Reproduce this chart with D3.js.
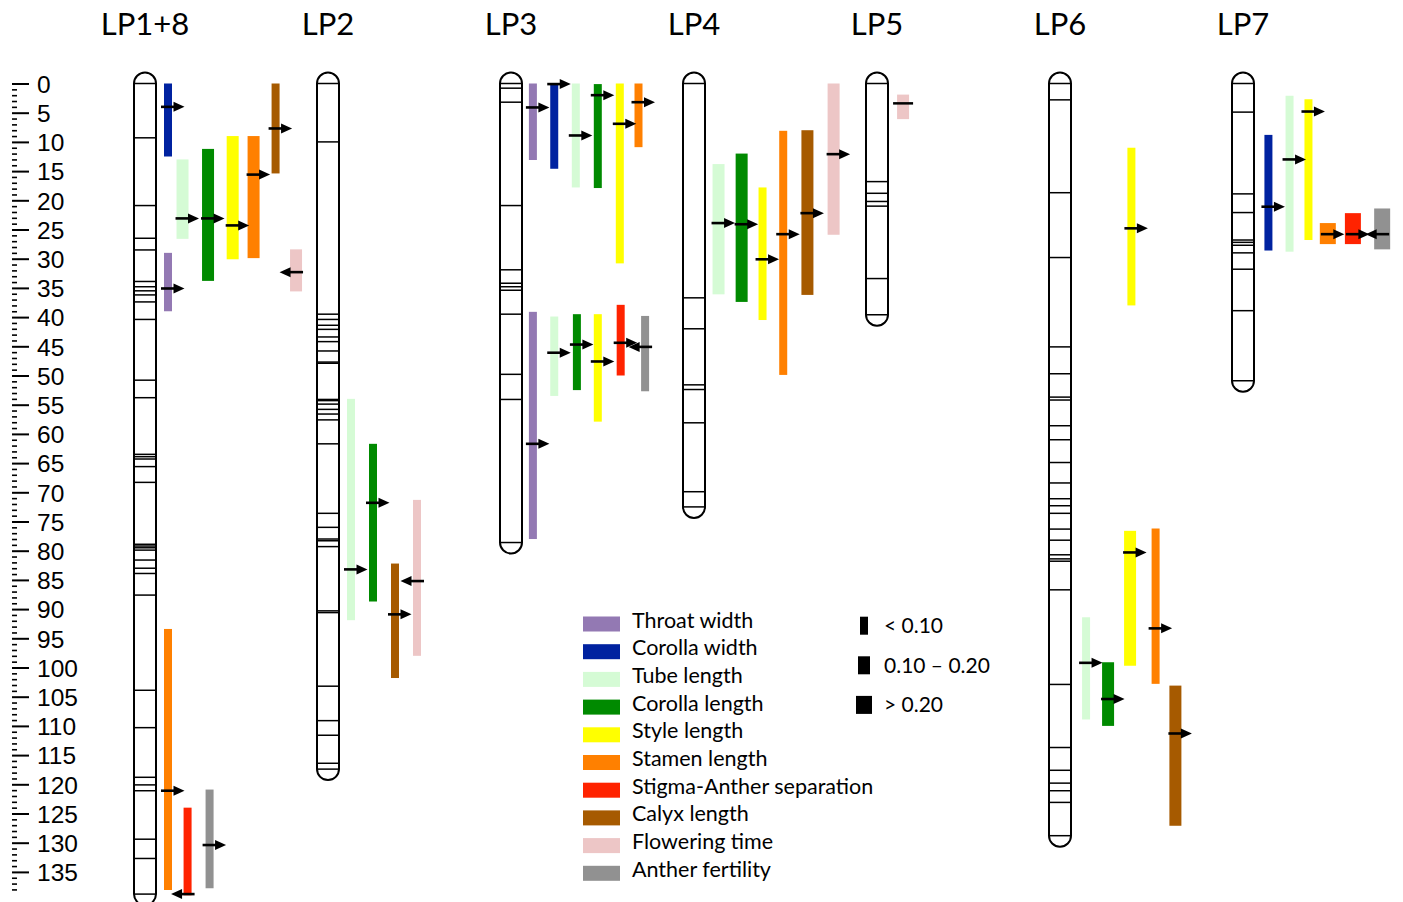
<!DOCTYPE html>
<html>
<head>
<meta charset="utf-8">
<script src="https://cdn.jsdelivr.net/npm/d3@7"></script>
<style>
  html, body { margin: 0; padding: 0; background: #fff; }
  svg { display: block; }
</style>
</head>
<body>
<svg id="chart" width="1403" height="902"></svg>
<script>
// ---------------- DATA ----------------
const groups = ["LP1+8", "LP2", "LP3", "LP4", "LP5", "LP6", "LP7"];

const traits = ["Throat width", "Corolla width", "Tube length", "Corolla length", "Style length",
  "Stamen length", "Stigma-Anther separation", "Calyx length", "Flowering time", "Anther fertility"];

const r2Classes = ["< 0.10", "0.10 \u2013 0.20", "> 0.20"];

// marker positions (cM) on each linkage group
const markersLP18 = [0, 9.3, 20.9, 26.5, 28.5, 33.9, 34.8, 35.5, 36.2, 37.4, 40.4, 50.8, 53.8, 63.5, 63.9, 64.3, 65.6,
  68.3, 78.9, 79.2, 79.5, 79.9, 81.6, 83.0, 83.9, 87.6, 103.9, 110.3, 118.8, 120.1, 121.1, 129.4, 132.7, 138.8];
const markersLP2 = [0, 10.0, 39.5, 40.4, 41.4, 42.1, 43.4, 44.2, 45.8, 47.7, 47.9, 54.1, 54.3, 54.9, 55.8, 56.6, 57.6, 61.7,
  73.6, 76.0, 78.0, 78.3, 79.3, 90.3, 90.6, 103.2, 109.1, 111.6, 116.4, 117.4];
const markersLP3 = [0, 0.8, 3.2, 20.9, 31.9, 34.2, 34.8, 35.4, 39.5, 49.8, 54.1, 78.6];
const markersLP4 = [0, 36.7, 42.0, 51.6, 52.4, 58.1, 69.9, 72.5];
const markersLP5 = [0, 16.8, 18.8, 20.2, 21.0, 33.4, 39.6];
const markersLP6 = [0, 2.8, 18.7, 29.8, 45.1, 49.7, 53.7, 54.2, 58.6, 61.0, 64.9, 68.4, 71.1, 72.3, 73.6, 76.3, 78.2,
  80.7, 81.4, 81.8, 86.7, 102.9, 113.7, 117.6, 119.8, 121.1, 123.1, 128.8];
const markersLP7 = [0, 4.9, 18.9, 22.1, 26.8, 27.2, 27.7, 29.0, 31.8, 38.9, 50.9];
const markers = [markersLP18, markersLP2, markersLP3, markersLP4, markersLP5, markersLP6, markersLP7];

// QTL: group, trait, column (lane), start, end, peak (cM), arrow direction, R2 class index
const qtlLP18 = [
  ["LP1+8", "Corolla width", 1.0, 0, 12.5, 4.0, "right", 0],
  ["LP1+8", "Tube length", 1.66, 13.0, 26.6, 23.1, "right", 1],
  ["LP1+8", "Corolla length", 2.82, 11.2, 33.8, 23.1, "right", 1],
  ["LP1+8", "Style length", 3.94, 9.0, 30.1, 24.3, "right", 1],
  ["LP1+8", "Stamen length", 4.89, 9.0, 29.9, 15.6, "right", 1],
  ["LP1+8", "Calyx length", 5.89, 0, 15.4, 7.7, "right", 0],
  ["LP1+8", "Flowering time", 6.82, 28.4, 35.6, 32.3, "left", 1],
  ["LP1+8", "Throat width", 1.0, 29.0, 39.0, 35.1, "right", 0],
  ["LP1+8", "Stamen length", 1.0, 93.4, 138.1, 121.1, "right", 0],
  ["LP1+8", "Stigma-Anther separation", 1.89, 124.0, 139.0, 138.8, "left", 0],
  ["LP1+8", "Anther fertility", 2.89, 120.9, 137.8, 130.4, "right", 0]
];
const qtlLP2 = [
  ["LP2", "Tube length", 1, 54.0, 91.9, 83.2, "right", 0],
  ["LP2", "Corolla length", 2, 61.7, 88.7, 71.8, "right", 0],
  ["LP2", "Calyx length", 3, 82.2, 101.8, 90.9, "right", 0],
  ["LP2", "Flowering time", 4, 71.3, 98.0, 85.2, "left", 0]
];
const qtlLP3 = [
  ["LP3", "Throat width", 0.95, 0, 13.1, 4.1, "right", 0],
  ["LP3", "Corolla width", 1.92, 0.1, 14.6, 0.1, "right", 0],
  ["LP3", "Tube length", 2.9, 0, 17.8, 8.9, "right", 0],
  ["LP3", "Corolla length", 3.9, 0.1, 17.9, 2.0, "right", 0],
  ["LP3", "Style length", 4.9, 0, 30.8, 6.9, "right", 0],
  ["LP3", "Stamen length", 5.75, 0, 10.9, 3.2, "right", 0],
  ["LP3", "Throat width", 0.95, 39.1, 78.0, 61.7, "right", 0],
  ["LP3", "Tube length", 1.92, 39.9, 53.5, 46.1, "right", 0],
  ["LP3", "Corolla length", 2.95, 39.5, 52.5, 44.7, "right", 0],
  ["LP3", "Style length", 3.9, 39.5, 57.9, 47.6, "right", 0],
  ["LP3", "Stigma-Anther separation", 4.94, 37.9, 50.0, 44.4, "right", 0],
  ["LP3", "Anther fertility", 6.05, 39.8, 52.7, 45.1, "left", 0]
];
const qtlLP4 = [
  ["LP4", "Tube length", 1.07, 13.8, 36.1, 23.9, "right", 1],
  ["LP4", "Corolla length", 2.12, 12.0, 37.4, 24.1, "right", 1],
  ["LP4", "Style length", 3.07, 17.8, 40.5, 30.1, "right", 0],
  ["LP4", "Stamen length", 4.01, 8.1, 49.9, 25.8, "right", 0],
  ["LP4", "Calyx length", 5.11, 8.0, 36.2, 22.2, "right", 1],
  ["LP4", "Flowering time", 6.3, 0, 25.9, 12.1, "right", 1]
];
const qtlLP5 = [
  ["LP5", "Flowering time", 1.14, 1.9, 6.1, 3.4, "none", 1]
];
const qtlLP6 = [
  ["LP6", "Style length", 3.2, 11.0, 38.0, 24.8, "right", 0],
  ["LP6", "Tube length", 1.14, 91.4, 108.9, 99.2, "right", 0],
  ["LP6", "Corolla length", 2.14, 99.1, 110.0, 105.4, "right", 1],
  ["LP6", "Style length", 3.14, 76.6, 99.7, 80.3, "right", 1],
  ["LP6", "Stamen length", 4.3, 76.2, 102.8, 93.3, "right", 0],
  ["LP6", "Calyx length", 5.2, 103.1, 127.1, 111.3, "right", 1]
];
const qtlLP7 = [
  ["LP7", "Corolla width", 1.11, 8.8, 28.6, 21.1, "right", 0],
  ["LP7", "Tube length", 2.07, 2.1, 28.8, 13.0, "right", 0],
  ["LP7", "Style length", 2.93, 2.7, 26.8, 4.8, "right", 0],
  ["LP7", "Stamen length", 3.81, 23.9, 27.5, 25.8, "right", 2],
  ["LP7", "Stigma-Anther separation", 4.95, 22.2, 27.5, 25.8, "right", 2],
  ["LP7", "Anther fertility", 6.28, 21.4, 28.4, 25.8, "left", 2]
];

const axisMajorTicks = d3.range(0, 136, 5);
const axisMinorTicks = d3.range(0, 139, 1).filter(v => v % 5 !== 0);

// ---------------- STYLE ----------------
const traitColors = ["#9379b3", "#0022a0", "#d5fbd5", "#008a00", "#ffff00",
  "#ff8000", "#ff2300", "#a65a00", "#edc6c6", "#919191"];
const r2Widths = [8, 12, 16];

// ---------------- BUILD ----------------
const qtls = [].concat(qtlLP18, qtlLP2, qtlLP3, qtlLP4, qtlLP5, qtlLP6, qtlLP7).map(r => ({
  group: r[0], trait: r[1], lane: r[2], start: r[3], end: r[4], peak: r[5], dir: r[6], r2: r[7]
}));

const svg = d3.select("#chart");
const y = d3.scaleLinear().domain([0, 135]).range([83.5, 83.5 + 135 * 5.84]);
const xg = d3.scalePoint().domain(groups).range([145, 1243]);
const laneX = d3.scaleLinear().domain([0, 1]).range([1, 23]);
const color = d3.scaleOrdinal().domain(traits).range(traitColors);
const barW = d3.scaleOrdinal().domain([0, 1, 2]).range(r2Widths);
const chromW = 22;
const textFont = "Lato, 'Open Sans', sans-serif";

// ---- axis ----
const axisG = svg.append("g").attr("transform", "translate(12,0)");
const major = d3.axisRight(y).tickValues(axisMajorTicks).tickSize(17).tickPadding(8).tickFormat(d3.format("d"));
const minor = d3.axisRight(y).tickValues(axisMinorTicks).tickSize(5).tickFormat("");
axisG.append("g").call(minor).call(g => g.select(".domain").remove())
  .selectAll("line").attr("stroke", "#000").attr("stroke-width", 1.6);
axisG.append("g").call(major).call(g => g.select(".domain").remove())
  .call(g => g.selectAll("line").attr("stroke", "#000").attr("stroke-width", 2))
  .call(g => g.selectAll("text").attr("font-family", "'Liberation Sans', Arial, sans-serif")
    .attr("font-size", 24.5).attr("fill", "#000").attr("dy", "0.36em"));

// ---- titles ----
svg.append("g").selectAll("text").data(groups).join("text")
  .attr("x", d => xg(d)).attr("y", 35)
  .attr("text-anchor", "middle")
  .attr("font-family", textFont)
  .attr("font-size", 31)
  .attr("fill", "#000")
  .text(d => d);

// ---- chromosomes ----
const chromG = svg.append("g");
groups.forEach((g, i) => {
  const m = markers[i];
  const cx = xg(g);
  const last = d3.max(m);
  const cg = chromG.append("g");
  cg.append("rect")
    .attr("x", cx - chromW / 2).attr("width", chromW)
    .attr("y", y(0) - chromW / 2).attr("height", y(last) - y(0) + chromW)
    .attr("rx", chromW / 2).attr("ry", chromW / 2)
    .attr("fill", "#fff").attr("stroke", "#000").attr("stroke-width", 2);
  cg.selectAll("line").data(m).join("line")
    .attr("x1", cx - chromW / 2).attr("x2", cx + chromW / 2)
    .attr("y1", d => y(d)).attr("y2", d => y(d))
    .attr("stroke", "#000").attr("stroke-width", 1.5);
});

// ---- QTL bars ----
const qx = d => xg(d.group) + laneX(d.lane);
svg.append("g").selectAll("rect").data(qtls).join("rect")
  .attr("x", d => qx(d) - barW(d.r2) / 2)
  .attr("width", d => barW(d.r2))
  .attr("y", d => y(d.start))
  .attr("height", d => y(d.end) - y(d.start))
  .attr("fill", d => color(d.trait));

// ---- peak arrows ----
const arrowG = svg.append("g");
qtls.forEach(d => {
  const cx = qx(d), py = y(d.peak);
  if (d.dir === "none") {
    arrowG.append("line").attr("x1", cx - 10).attr("x2", cx + 10)
      .attr("y1", py).attr("y2", py).attr("stroke", "#000").attr("stroke-width", 2.5);
    return;
  }
  const s = d.dir === "right" ? 1 : -1;
  arrowG.append("line")
    .attr("x1", cx - 7 * s).attr("x2", cx + 7 * s)
    .attr("y1", py).attr("y2", py)
    .attr("stroke", "#000").attr("stroke-width", 2.6);
  arrowG.append("path")
    .attr("d", `M${cx + 5.5 * s},${py - 5}L${cx + 16.5 * s},${py}L${cx + 5.5 * s},${py + 5}Z`)
    .attr("fill", "#000");
});

// ---- trait legend ----
const leg = svg.append("g");
const legY = d3.scaleLinear().domain([0, 1]).range([624, 651.7]);
const lr = leg.selectAll("g").data(traits).join("g")
  .attr("transform", (d, i) => `translate(0,${legY(i)})`);
lr.append("rect").attr("x", 583).attr("y", -7.5).attr("width", 37).attr("height", 15)
  .attr("fill", d => color(d));
lr.append("text").attr("x", 632).attr("y", 3.5)
  .attr("font-family", textFont).attr("font-size", 21.5).attr("fill", "#000")
  .text(d => d);

// ---- R2 size legend ----
const sl = svg.append("g");
const slY = d3.scaleLinear().domain([0, 1]).range([625.7, 665.3]);
const sr = sl.selectAll("g").data(r2Classes).join("g")
  .attr("transform", (d, i) => `translate(0,${slY(i)})`);
sr.append("rect").attr("x", (d, i) => 864 - r2Widths[i] / 2).attr("y", -9)
  .attr("width", (d, i) => r2Widths[i]).attr("height", 18).attr("fill", "#000");
sr.append("text").attr("x", 884).attr("y", 7.5)
  .attr("font-family", textFont).attr("font-size", 21).attr("fill", "#000")
  .text(d => d);
</script>
</body>
</html>
